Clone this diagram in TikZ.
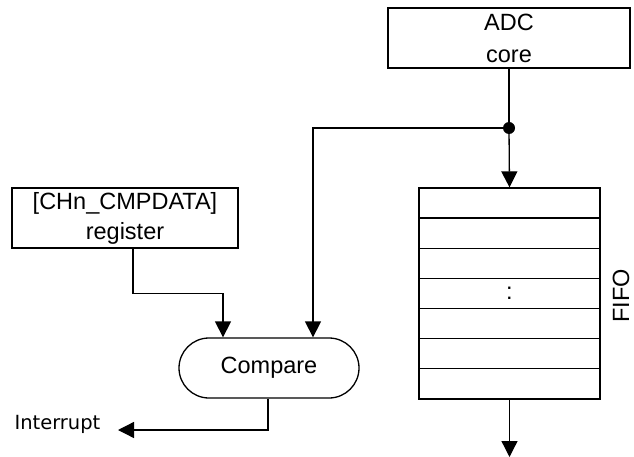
\documentclass[tikz,border=0pt]{standalone}
\usepackage{fontspec}
\setmainfont{Liberation Sans}
\newfontfamily\labelfont{DejaVu Sans}
\usetikzlibrary{arrows.meta}

\begin{document}
\begin{tikzpicture}[x=1pt,y=-1pt,
  line width=1.3pt,
  blk/.style={draw, line width=1.3pt, inner sep=0pt, align=center,
    font=\fontsize{23.5}{32}\selectfont},
  row/.style={draw, line width=1.3pt, inner sep=0pt, minimum width=181pt,
    minimum height=30.14pt, font=\fontsize{23.5}{26}\selectfont},
  arr/.style={-{Triangle[length=16pt,width=16pt]}}]
\fill[white] (0,0) rectangle (634,457);
\useasboundingbox (0,0) rectangle (634,457);

% blocks
\node[blk, minimum width=242pt, minimum height=60pt] (adc) at (509,38) {ADC\\core};
\node[blk, minimum width=226pt, minimum height=60pt,
  font=\fontsize{23.5}{30}\selectfont] (reg) at (125,218) {[CHn\_CMPDATA]\\register};
\node[blk, rounded corners=30pt, minimum width=180pt, minimum height=60pt] (cmp)
  at (269,368) {Compare};

% FIFO stack
\node[row] (f1) at (509.5,203.07) {};
\node[row] (f2) at (509.5,233.21) {};
\node[row] (f3) at (509.5,263.35) {};
\node[row] (f4) at (509.5,293.49) {:};
\node[row] (f5) at (509.5,323.63) {};
\node[row] (f6) at (509.5,353.77) {};
\node[row] (f7) at (509.5,383.91) {};
\node[rotate=90, inner sep=0pt, anchor=south, font=\fontsize{23.5}{26}\selectfont]
  (lbl) at (630,296) {FIFO};

\node[inner sep=0pt, anchor=base east, font=\labelfont\fontsize{19.5}{22}\selectfont]
  (intr) at (101,429) {Interrupt};

% connectors
\coordinate (j) at (509,128);
\coordinate (fout) at (509.5,457);
\draw (adc.south) -- (j);
\draw[arr] (j) -- (f1.north);
\draw[arr] (j) -| ([xshift=44pt]cmp.north);
\fill (j) circle (6pt);
\draw[arr] ([xshift=8pt]reg.south) -- ++(0,45) -| ([xshift=-46pt]cmp.north);
\draw[arr] ([xshift=-1pt]cmp.south) |- ([xshift=17pt,yshift=-1pt]intr.base east);
\draw[arr] (f7.south) -- (fout);
\end{tikzpicture}
\end{document}
